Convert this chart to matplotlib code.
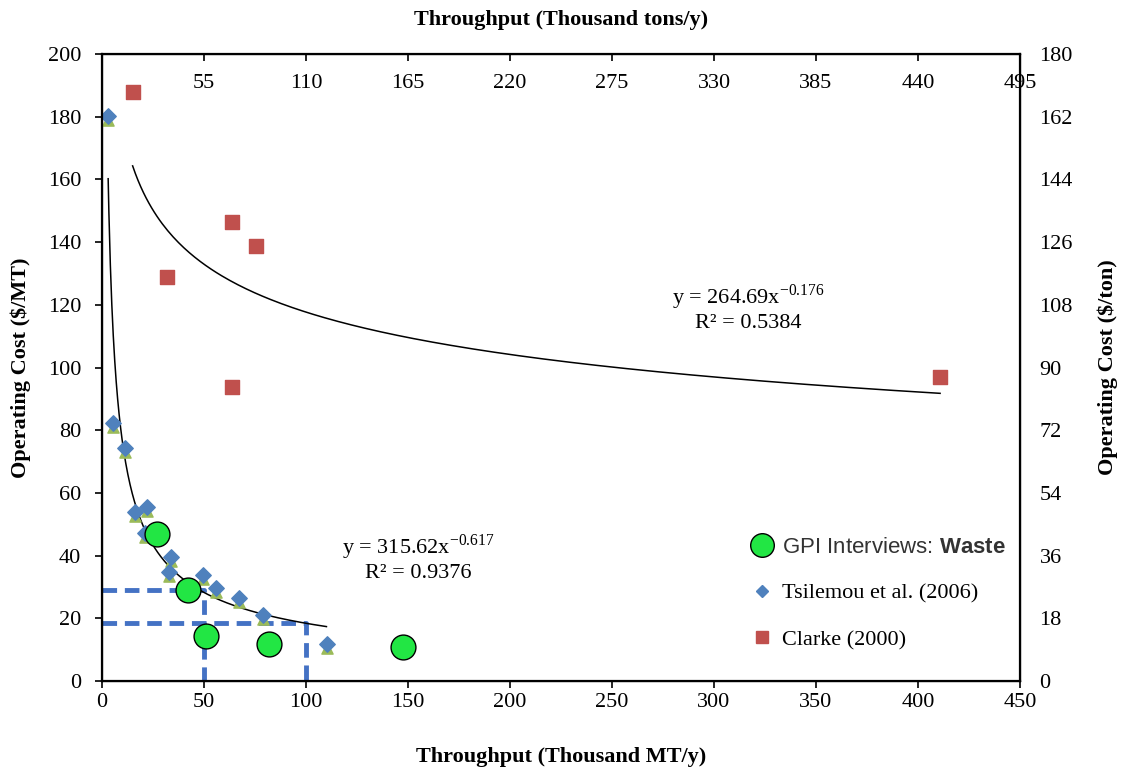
import numpy as np
import matplotlib
matplotlib.use("Agg")
from matplotlib import pyplot as plt
from matplotlib.lines import Line2D

plt.rcParams['font.family'] = 'Liberation Serif'
plt.rcParams['mathtext.fontset'] = 'custom'
plt.rcParams['mathtext.rm'] = 'Liberation Serif'
plt.rcParams['mathtext.bf'] = 'Liberation Sans:bold'

# GPI interviews (thousand MT/y, $/MT)
gpi_x = [27, 42, 51, 82, 147.5]
gpi_y = [47, 29, 14.4, 11.8, 10.8]

# Tsilemou et al. (2006)
tsil_x = [2.9, 5.4, 11.3, 16.2, 22, 21, 33.8, 32.8, 49.5, 55.9, 67.2, 78.9, 110.3]
tsil_y = [180.2, 82.3, 74.3, 53.9, 55.5, 47.2, 39.6, 34.8, 33.8, 29.7, 26.5, 21.1, 11.8]

# Clarke (2000)
clarke_x = [15.2, 31.9, 63.7, 75.5, 63.7, 410.8]
clarke_y = [187.9, 128.9, 146.4, 138.8, 93.8, 97.0]

# power trendlines: coefficient, exponent, x range
fit1 = (315.62, -0.617, 3, 110)
fit2 = (264.69, -0.176, 15, 410.8)

# guide lines
guide_a = ([0, 50, 50], [29, 29, 0])
guide_b = ([0, 100, 100], [18.5, 18.5, 0])

top_ticks = [55, 110, 165, 220, 275, 330, 385, 440, 495]
right_ticks = [0, 18, 36, 54, 72, 90, 108, 126, 144, 162, 180]

FS = 16

fig = plt.figure(figsize=(11.3, 7.73), dpi=100)
ax = fig.add_axes([0.0903, 0.119, 0.8124, 0.811])

ax.plot(guide_a[0], guide_a[1], color='#4472C4', lw=3.5, ls=(0, (3, 1.6)), zorder=2)
ax.plot(guide_b[0], guide_b[1], color='#4472C4', lw=3.5, ls=(0, (3, 1.6)), zorder=2)

for a, b, x0, x1 in [fit1, fit2]:
    xs = np.linspace(x0, x1, 300)
    ax.plot(xs, a * xs ** b, color='black', lw=1.1, zorder=3)

# green triangles behind the diamonds
ax.scatter(tsil_x, np.array(tsil_y) - 1.2, marker='^', s=65, color='#9BBB59', zorder=3)
ax.scatter(tsil_x, tsil_y, marker='D', s=62, color='#4F81BD', zorder=4)
ax.scatter(clarke_x, clarke_y, marker='s', s=95, color='#C0504D', zorder=4)
ax.scatter(gpi_x, gpi_y, marker='o', s=320, color='#22E644', edgecolor='black', lw=1, zorder=5)

ax.set_xlim(0, 450)
ax.set_ylim(0, 200)
ax.set_xticks(np.arange(0, 451, 50))
ax.set_yticks(np.arange(0, 201, 20))
ax.tick_params(labelsize=FS, length=5, width=1.2)
ax.tick_params(axis='y', pad=10)
for s in ax.spines.values():
    s.set_linewidth(1.6)
ax.set_xlabel('Throughput (Thousand MT/y)', fontsize=FS, fontweight='bold', labelpad=25)
ax.set_ylabel('Operating Cost ($/MT)', fontsize=FS, fontweight='bold', labelpad=12)

ax.text(155, 42.7, r'y = 315.62x$^{\mathregular{-0.617}}$', fontsize=FS, ha='center', va='center')
ax.text(155, 34.4, 'R² = 0.9376', fontsize=FS, ha='center', va='center')
ax.text(316.7, 122.5, r'y = 264.69x$^{\mathregular{-0.176}}$', fontsize=FS, ha='center', va='center')
ax.text(316.7, 113.9, 'R² = 0.5384', fontsize=FS, ha='center', va='center')

axr = ax.twinx()
axr.set_ylim(0, 180)
axr.set_yticks(right_ticks)
axr.tick_params(labelsize=FS, length=0, pad=14)
axr.set_ylabel('Operating Cost ($/ton)', fontsize=FS, fontweight='bold', labelpad=18)

axt = ax.twiny()
axt.set_xlim(0, 495)
axt.set_xticks(top_ticks)
axt.tick_params(labelsize=FS, direction='in', length=5, width=1.2, pad=-28)
axt.set_xlabel('Throughput (Thousand tons/y)', fontsize=FS, fontweight='bold', labelpad=21)

handles = [
    Line2D([], [], ls='none', marker='o', ms=17, mfc='#22E644', mec='black'),
    Line2D([], [], ls='none', marker='D', ms=6, color='#4F81BD'),
    Line2D([], [], ls='none', marker='s', ms=9, color='#C0504D'),
]
labels = [r'GPI Interviews: $\mathbf{Waste}$', 'Tsilemou et al. (2006)', 'Clarke (2000)']
leg = ax.legend(handles, labels, loc='upper left', bbox_to_anchor=(0.683, 0.262),
                frameon=False, fontsize=FS, labelspacing=1.15, handletextpad=0.3,
                handlelength=1.2)
leg.get_texts()[0].set_family('Liberation Sans')
leg.get_texts()[0].set_color('#333333')

fig.savefig('out.png', dpi=100)
